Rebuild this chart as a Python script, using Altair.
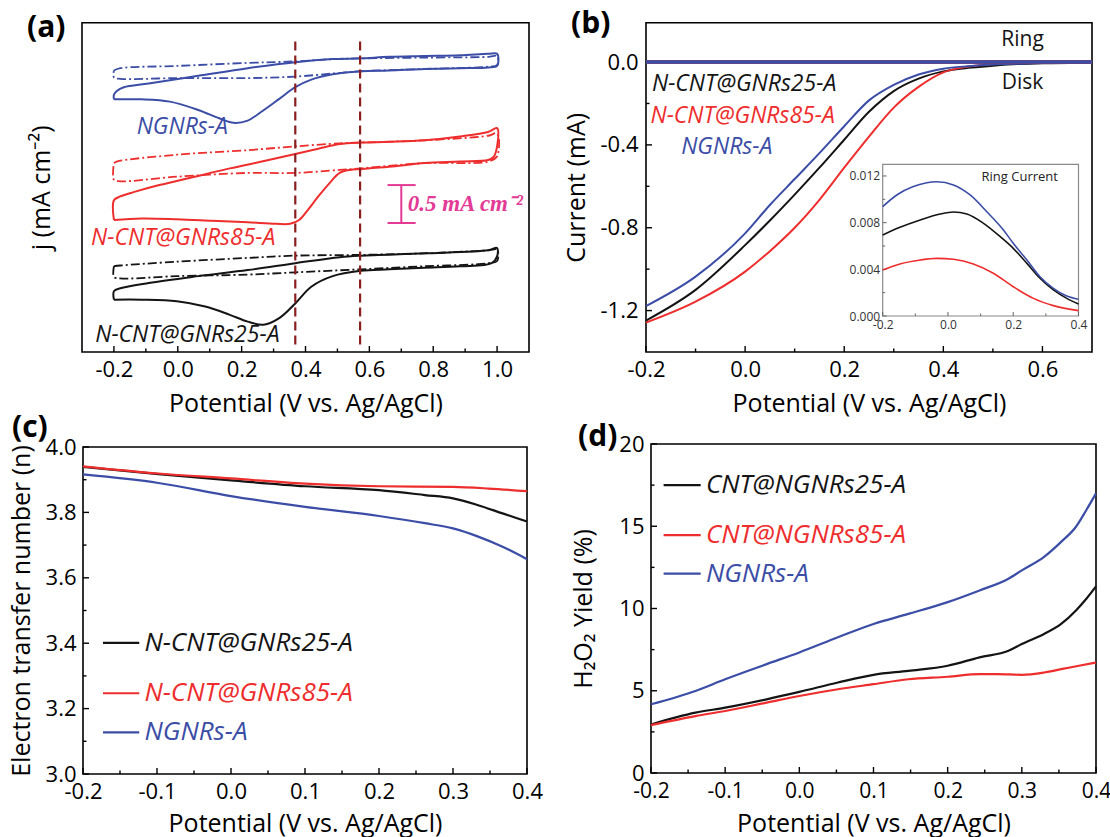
import altair as alt
import pandas as pd

W, H = 1110, 837
FONT = "Open Sans"
BLACK, RED, BLUE = "#141414", "#EE2D2D", "#3B4DA6"
DARKRED = "#8B1E1E"
PINK = "#E33A96"
CSCALE = alt.Scale(domain=["black", "red", "blue"], range=[BLACK, RED, BLUE])
MINUS = "replace(format(datum.value, '.1f'), '\u2212', '-')"

# ---------------- (a) cyclic voltammograms (offset, mA cm-2) ----------------
A_BLUE_SOLID_X = [-0.2, -0.114, -0.025, 0.064, 0.13, 0.175, 0.219, 0.263, 0.319, 0.368, 0.418, 0.485, 0.573, 0.662, 0.773, 0.884, 0.972, 1.0, 1.0, 0.972, 0.884, 0.773, 0.662, 0.573, 0.485, 0.368, 0.219, 0.064, -0.091, -0.169, -0.191, -0.2, -0.2]
A_BLUE_SOLID_Y = [3.33, 3.33, 3.30, 3.19, 3.08, 3.02, 3.05, 3.17, 3.34, 3.49, 3.59, 3.66, 3.70, 3.71, 3.73, 3.74, 3.75, 3.77, 3.93, 3.93, 3.91, 3.90, 3.89, 3.87, 3.86, 3.82, 3.74, 3.64, 3.54, 3.49, 3.44, 3.39, 3.33]
A_BLUE_DASH_X = [-0.2, -0.18, -0.003, 0.219, 0.368, 0.485, 0.573, 0.773, 0.972, 1.0, 1.0, 0.972, 0.773, 0.573, 0.485, 0.368, 0.219, -0.003, -0.18, -0.2, -0.2]
A_BLUE_DASH_Y = [3.71, 3.74, 3.77, 3.81, 3.83, 3.86, 3.87, 3.88, 3.89, 3.90, 3.78, 3.76, 3.73, 3.70, 3.67, 3.63, 3.61, 3.61, 3.60, 3.62, 3.71]
A_RED_SOLID_X = [-0.2, -0.114, -0.003, 0.108, 0.219, 0.307, 0.352, 0.38, 0.407, 0.44, 0.474, 0.507, 0.54, 0.573, 0.662, 0.773, 0.884, 0.972, 0.989, 1.0, 1.0, 0.972, 0.884, 0.773, 0.662, 0.573, 0.507, 0.44, 0.368, 0.274, 0.163, 0.053, -0.058, -0.136, -0.18, -0.2, -0.2]
A_RED_SOLID_Y = [1.74, 1.76, 1.75, 1.73, 1.71, 1.69, 1.69, 1.74, 1.87, 2.05, 2.22, 2.36, 2.40, 2.41, 2.44, 2.49, 2.51, 2.53, 2.57, 2.71, 2.95, 2.90, 2.84, 2.79, 2.77, 2.76, 2.74, 2.68, 2.61, 2.52, 2.42, 2.31, 2.20, 2.11, 2.05, 2.00, 1.74]
A_RED_DASH_X = [-0.2, -0.191, -0.003, 0.219, 0.368, 0.507, 0.573, 0.773, 0.972, 1.0, 1.0, 0.972, 0.773, 0.573, 0.507, 0.368, 0.219, -0.003, -0.18, -0.2, -0.2]
A_RED_DASH_Y = [2.49, 2.51, 2.60, 2.66, 2.71, 2.75, 2.76, 2.79, 2.85, 2.88, 2.58, 2.51, 2.49, 2.42, 2.40, 2.36, 2.36, 2.31, 2.25, 2.27, 2.49]
A_BLACK_SOLID_X = [-0.2, -0.114, -0.003, 0.086, 0.163, 0.219, 0.269, 0.319, 0.368, 0.418, 0.485, 0.573, 0.662, 0.773, 0.884, 0.983, 1.0, 1.0, 0.972, 0.773, 0.573, 0.507, 0.368, 0.219, 0.064, -0.091, -0.18, -0.2, -0.2]
A_BLACK_SOLID_Y = [0.69, 0.69, 0.67, 0.60, 0.49, 0.40, 0.36, 0.45, 0.64, 0.86, 1.00, 1.07, 1.09, 1.11, 1.13, 1.17, 1.26, 1.37, 1.34, 1.30, 1.27, 1.25, 1.17, 1.08, 1.00, 0.91, 0.84, 0.80, 0.69]
A_BLACK_DASH_X = [-0.2, -0.18, -0.003, 0.219, 0.368, 0.573, 0.773, 0.972, 1.0, 1.0, 0.972, 0.773, 0.573, 0.368, 0.219, -0.003, -0.18, -0.2, -0.2]
A_BLACK_DASH_Y = [1.13, 1.14, 1.19, 1.24, 1.27, 1.28, 1.30, 1.34, 1.35, 1.20, 1.17, 1.13, 1.09, 1.05, 1.02, 1.00, 0.97, 0.99, 1.13]
A_VLINES_X = [0.368, 0.571]
A_VLINES_Y = [0.10, 4.12]
A_BAR_X0 = [0.70, 0.657, 0.657]
A_BAR_X1 = [0.70, 0.745, 0.745]
A_BAR_Y0 = [1.70, 2.20, 1.70]
A_BAR_Y1 = [2.20, 2.20, 1.70]
A_LABELS = ["NGNRs-A", "N-CNT@GNRs85-A", "N-CNT@GNRs25-A"]
A_LABEL_X = [0.014, 0.017, 0.03]
A_LABEL_Y = [2.96, 1.50, 0.23]
A_LABEL_C = ["blue", "red", "black"]

# ---------------- (b) RRDE disk / ring ----------------
B_X = [-0.2, -0.1, 0.0, 0.05, 0.1, 0.15, 0.2, 0.25, 0.3, 0.35, 0.4, 0.45, 0.5, 0.55, 0.6, 0.7]
B_RED = [-1.258, -1.157, -1.012, -0.913, -0.80, -0.665, -0.51, -0.36, -0.22, -0.12, -0.05, -0.022, -0.01, -0.005, -0.003, -0.002]
B_BLACK = [-1.248, -1.10, -0.884, -0.765, -0.64, -0.51, -0.375, -0.24, -0.14, -0.08, -0.045, -0.028, -0.018, -0.01, -0.006, -0.003]
B_BLUE = [-1.178, -1.036, -0.827, -0.69, -0.565, -0.44, -0.31, -0.185, -0.11, -0.06, -0.032, -0.02, -0.012, -0.008, -0.005, -0.003]
B_RING_X = [-0.2, 0.7]
B_RING_Y = [0.0, 0.0]
B_LABELS = ["N-CNT@GNRs25-A", "N-CNT@GNRs85-A", "NGNRs-A"]
B_LABEL_X = [-0.188, -0.191, -0.129]
B_LABEL_Y = [-0.104, -0.262, -0.41]
B_LABEL_C = ["black", "red", "blue"]
B_NOTES = ["Ring", "Disk"]
B_NOTE_X = [0.56, 0.56]
B_NOTE_Y = [0.105, -0.102]

# inset: ring current
I_BLUE_X = [-0.2, -0.157, -0.106, -0.034, 0.017, 0.068, 0.119, 0.17, 0.2, 0.242, 0.282, 0.323, 0.364, 0.4]
I_BLUE_Y = [0.00937, 0.01037, 0.01109, 0.01151, 0.01123, 0.01037, 0.00894, 0.00737, 0.00623, 0.0048, 0.00337, 0.00237, 0.00171, 0.00143]
I_BLACK_X = [-0.2, -0.147, -0.085, -0.024, 0.017, 0.058, 0.109, 0.16, 0.2, 0.242, 0.282, 0.323, 0.364, 0.4]
I_BLACK_Y = [0.00694, 0.0076, 0.00823, 0.00874, 0.00891, 0.00874, 0.00794, 0.0068, 0.0058, 0.00451, 0.00323, 0.00223, 0.00151, 0.00103]
I_RED_X = [-0.2, -0.147, -0.085, -0.034, 0.017, 0.078, 0.139, 0.2, 0.262, 0.323, 0.4]
I_RED_Y = [0.00394, 0.00446, 0.0048, 0.00494, 0.00486, 0.00446, 0.00366, 0.00251, 0.00151, 0.00089, 0.00046]

# ---------------- (c) electron transfer number ----------------
C_RED_X = [-0.2, -0.098, 0.0, 0.1, 0.2, 0.3, 0.348, 0.4]
C_RED_Y = [3.941, 3.919, 3.904, 3.888, 3.880, 3.878, 3.873, 3.865]
C_BLACK_X = [-0.2, -0.098, 0.0, 0.1, 0.2, 0.262, 0.3, 0.334, 0.367, 0.4]
C_BLACK_Y = [3.939, 3.917, 3.898, 3.880, 3.868, 3.853, 3.843, 3.822, 3.797, 3.772]
C_BLUE_X = [-0.2, -0.098, 0.0, 0.1, 0.2, 0.262, 0.3, 0.334, 0.367, 0.4]
C_BLUE_Y = [3.916, 3.890, 3.850, 3.817, 3.789, 3.767, 3.751, 3.726, 3.695, 3.657]
C_LEG = ["N-CNT@GNRs25-A", "N-CNT@GNRs85-A", "NGNRs-A"]
C_LEG_Y = [3.401, 3.247, 3.127]
C_LEG_C = ["black", "red", "blue"]
C_LEG_X = [-0.173, -0.124, -0.117]

# ---------------- (d) H2O2 yield ----------------
D_X = [-0.2, -0.14, -0.1, -0.044, 0.0, 0.052, 0.1, 0.147, 0.2, 0.243, 0.282, 0.3, 0.33, 0.353, 0.373, 0.387, 0.4]
D_BLUE = [4.18, 4.99, 5.70, 6.62, 7.33, 8.25, 9.06, 9.67, 10.39, 11.1, 11.81, 12.32, 13.14, 14.05, 14.97, 15.99, 17.0]
D_BLACK = [2.95, 3.67, 3.97, 4.48, 4.93, 5.50, 5.97, 6.21, 6.52, 7.03, 7.43, 7.84, 8.45, 9.06, 9.88, 10.59, 11.34]
D_RED_X = [-0.2, -0.14, -0.1, -0.044, 0.0, 0.052, 0.1, 0.147, 0.2, 0.243, 0.267, 0.3, 0.33, 0.353, 0.377, 0.4]
D_RED = [2.91, 3.46, 3.77, 4.28, 4.68, 5.09, 5.40, 5.70, 5.85, 6.01, 6.01, 5.97, 6.11, 6.31, 6.52, 6.72]
D_LEG = ["CNT@NGNRs25-A", "CNT@NGNRs85-A", "NGNRs-A"]
D_LEG_Y = [17.5, 14.46, 12.12]
D_LEG_C = ["black", "red", "blue"]
D_LEG_X = [-0.183, -0.133, -0.126]

TICK_FS = 22
TITLE_FS = 25


# ---------------- helpers ----------------
def axis(orient, offset, values=None, title="", labels=True, fmt=None, size=TICK_FS,
         lpad=7, tpad=11, tsize=TITLE_FS, lcolor="black"):
    kw = dict(orient=orient, offset=offset, title=title, labels=labels, ticks=False,
              tickSize=0, domain=False, grid=False, labelFont=FONT, labelFontSize=size,
              labelColor=lcolor, titleFont=FONT, titleFontSize=tsize,
              titleFontWeight="normal", titleColor="black", labelPadding=lpad,
              titlePadding=tpad, labelOverlap=False, labelFlush=False)
    if values is not None:
        kw["values"] = values
    if fmt is not None:
        kw["labelExpr"] = fmt
    return alt.Axis(**kw)


def encoders(xd, xr, yd, yr, xax, yax):
    sx = alt.Scale(domain=xd, range=xr, zero=False, nice=False)
    sy = alt.Scale(domain=yd, range=yr, zero=False, nice=False)

    def X(f):
        return alt.X(f, type="quantitative", scale=sx, axis=xax)

    def Y(f):
        return alt.Y(f, type="quantitative", scale=sy, axis=yax)
    return X, Y


def curves(items):
    rows = []
    for key, c, xs, ys in items:
        for i, (x, y) in enumerate(zip(xs, ys)):
            rows.append({"key": key, "c": c, "x": x, "y": y, "i": i})
    return pd.DataFrame(rows)


def line_layer(df, X, Y, width=2.0, dash=None, interp="linear"):
    kw = dict(strokeWidth=width, interpolate=interp)
    if dash:
        kw["strokeDash"] = dash
    return alt.Chart(df).mark_line(**kw).encode(
        x=X("x"), y=Y("y"), detail="key:N", order="i:Q",
        color=alt.Color("c:N", scale=CSCALE, legend=None))


def frame(X, Y, xd, yd, color="black", sw=1.6):
    df = pd.DataFrame({"x0": [xd[0]], "x1": [xd[1]], "y0": [yd[0]], "y1": [yd[1]]})
    return alt.Chart(df).mark_rect(fillOpacity=0, stroke=color, strokeWidth=sw).encode(
        x=X("x0"), x2="x1", y=Y("y0"), y2="y1")


def xticks(X, vals, bottom, length, color="black", sw=1.4):
    return alt.Chart(pd.DataFrame({"v": vals})).mark_rule(color=color, strokeWidth=sw).encode(
        x=X("v"), y=alt.value(bottom), y2=alt.value(bottom - length))


def yticks(Y, vals, left, length, color="black", sw=1.4):
    return alt.Chart(pd.DataFrame({"v": vals})).mark_rule(color=color, strokeWidth=sw).encode(
        y=Y("v"), x=alt.value(left), x2=alt.value(left + length))


def texts(X, Y, labels, xs, ys, cs, size, align="center", style="italic", weight="normal", font=FONT):
    df = pd.DataFrame({"t": labels, "x": xs, "y": ys, "c": cs})
    return alt.Chart(df).mark_text(font=font, fontSize=size, fontStyle=style, fontWeight=weight,
                                   align=align, baseline="middle").encode(
        x=X("x"), y=Y("y"), text="t:N",
        color=alt.Color("c:N", scale=CSCALE, legend=None))


# ---------------- panel (a) ----------------
AX = [-0.3, 1.1]; AY = [0.0, 4.34]
A_L, A_R, A_T, A_B = 82, 529, 22.7, 352
Xa, Ya = encoders(AX, [A_L, A_R], AY, [A_B, A_T],
                  axis("bottom", A_B - H, [-0.2, 0.0, 0.2, 0.4, 0.6, 0.8, 1.0], "Potential (V vs. Ag/AgCl)", fmt=MINUS),
                  axis("left", -A_L, [], "j (mA cm\u207b\u00b2)", labels=False, tpad=28))
a_solid = curves([("bs", "blue", A_BLUE_SOLID_X, A_BLUE_SOLID_Y),
                  ("rs", "red", A_RED_SOLID_X, A_RED_SOLID_Y),
                  ("ks", "black", A_BLACK_SOLID_X, A_BLACK_SOLID_Y)])
a_dash = curves([("bd", "blue", A_BLUE_DASH_X, A_BLUE_DASH_Y),
                 ("rd", "red", A_RED_DASH_X, A_RED_DASH_Y),
                 ("kd", "black", A_BLACK_DASH_X, A_BLACK_DASH_Y)])
vl = pd.DataFrame({"x": A_VLINES_X, "y0": [A_VLINES_Y[0]] * 2, "y1": [A_VLINES_Y[1]] * 2})
bar = pd.DataFrame({"x0": A_BAR_X0, "x1": A_BAR_X1, "y0": A_BAR_Y0, "y1": A_BAR_Y1})
panel_a = alt.layer(
    frame(Xa, Ya, AX, AY),
    xticks(Xa, [-0.2, 0.0, 0.2, 0.4, 0.6, 0.8, 1.0], A_B, 6),
    xticks(Xa, [-0.1, 0.1, 0.3, 0.5, 0.7, 0.9], A_B, 3.5),
    line_layer(a_dash, Xa, Ya, 1.8, [9, 3, 2, 3], interp="catmull-rom"),
    line_layer(a_solid, Xa, Ya, 2.0, interp="catmull-rom"),
    alt.Chart(vl).mark_rule(color=DARKRED, strokeWidth=2.2, strokeDash=[9, 5]).encode(
        x=Xa("x"), y=Ya("y0"), y2="y1"),
    alt.Chart(bar).mark_rule(color=PINK, strokeWidth=2).encode(
        x=Xa("x0"), x2="x1", y=Ya("y0"), y2="y1"),
    alt.Chart(pd.DataFrame({"t": ["0.5 mA cm\u207b\u00b2"], "x": [0.72], "y": [1.95]})).mark_text(
        font="Liberation Serif", fontSize=23, fontStyle="italic", fontWeight="bold",
        color=PINK, align="left", baseline="middle").encode(x=Xa("x"), y=Ya("y"), text="t:N"),
    texts(Xa, Ya, A_LABELS, A_LABEL_X, A_LABEL_Y, A_LABEL_C, 23),
)

# ---------------- panel (b) ----------------
BX = [-0.2, 0.7]; BY = [-1.4, 0.19]
B_L, B_R, B_T, B_B = 646, 1092, 22.7, 352
Xb, Yb = encoders(BX, [B_L, B_R], BY, [B_B, B_T],
                  axis("bottom", B_B - H, [-0.2, 0.0, 0.2, 0.4, 0.6], "Potential (V vs. Ag/AgCl)", fmt=MINUS),
                  axis("left", -B_L, [0.0, -0.4, -0.8, -1.2], "Current (mA)", fmt=MINUS, lpad=8, tpad=10))
b_disk = curves([("kd", "black", B_X, B_BLACK), ("rd", "red", B_X, B_RED), ("bd", "blue", B_X, B_BLUE)])
b_ring = curves([("kr", "black", B_RING_X, B_RING_Y), ("rr", "red", B_RING_X, B_RING_Y),
                 ("br", "blue", B_RING_X, B_RING_Y)])
panel_b = alt.layer(
    frame(Xb, Yb, BX, BY),
    xticks(Xb, [-0.2, 0.0, 0.2, 0.4, 0.6], B_B, 6),
    xticks(Xb, [-0.1, 0.1, 0.3, 0.5], B_B, 3.5),
    yticks(Yb, [0.0, -0.4, -0.8, -1.2], B_L, 6),
    yticks(Yb, [-0.2, -0.6, -1.0], B_L, 3.5),
    line_layer(b_disk, Xb, Yb, 2.0, interp="monotone"),
    line_layer(b_ring, Xb, Yb, 3.5),
    texts(Xb, Yb, B_LABELS, B_LABEL_X, B_LABEL_Y, B_LABEL_C, 23, align="left"),
    texts(Xb, Yb, B_NOTES, B_NOTE_X, B_NOTE_Y, ["black", "black"], 21, style="normal"),
)

# ---------------- inset ----------------
IX = [-0.2, 0.4]; IY = [0.0, 0.013]
I_L, I_R, I_B, I_T = 882.7, 1078.5, 316, 164.3
Xi, Yi = encoders(IX, [I_L, I_R], IY, [I_B, I_T],
                  axis("bottom", I_B - H, [-0.2, 0.0, 0.2, 0.4], "", fmt=MINUS, size=12, lpad=3, lcolor="#333333"),
                  axis("left", -I_L, [0.0, 0.004, 0.008, 0.012], "", fmt="format(datum.value, '.3f')",
                       size=12, lpad=3, lcolor="#333333"))
i_df = curves([("ki", "black", I_BLACK_X, I_BLACK_Y), ("ri", "red", I_RED_X, I_RED_Y),
               ("bi", "blue", I_BLUE_X, I_BLUE_Y)])
panel_i = alt.layer(
    frame(Xi, Yi, IX, IY, color="#8a8a8a", sw=1.2),
    xticks(Xi, [-0.2, 0.0, 0.2, 0.4], I_B, 4, color="#666666", sw=1),
    xticks(Xi, [-0.1, 0.1, 0.3], I_B, 2.5, color="#666666", sw=1),
    yticks(Yi, [0.0, 0.004, 0.008, 0.012], I_L, 4, color="#666666", sw=1),
    yticks(Yi, [0.002, 0.006, 0.010], I_L, 2.5, color="#666666", sw=1),
    line_layer(i_df, Xi, Yi, 1.6, interp="monotone"),
    alt.Chart(pd.DataFrame({"t": ["Ring Current"], "x": [0.22], "y": [0.01194]})).mark_text(
        font=FONT, fontSize=13, color="#222222", align="center", baseline="middle").encode(
        x=Xi("x"), y=Yi("y"), text="t:N"),
)

# ---------------- panel (c) ----------------
CX = [-0.2, 0.4]; CY = [3.0, 4.0]
C_L, C_R, C_T, C_B = 83, 527, 447, 774
Xc, Yc = encoders(CX, [C_L, C_R], CY, [C_B, C_T],
                  axis("bottom", C_B - H, [-0.2, -0.1, 0.0, 0.1, 0.2, 0.3, 0.4], "Potential (V vs. Ag/AgCl)",
                       fmt=MINUS, tpad=9),
                  axis("left", -C_L, [3.0, 3.2, 3.4, 3.6, 3.8, 4.0], "Electron transfer number (n)",
                       fmt=MINUS, lpad=7, tpad=11))
c_df = curves([("kc", "black", C_BLACK_X, C_BLACK_Y), ("bc", "blue", C_BLUE_X, C_BLUE_Y),
               ("rc", "red", C_RED_X, C_RED_Y)])
c_leg = pd.DataFrame({"x0": [C_LEG_X[0]] * 3, "x1": [C_LEG_X[1]] * 3, "y": C_LEG_Y, "c": C_LEG_C})
panel_c = alt.layer(
    frame(Xc, Yc, CX, CY),
    xticks(Xc, [-0.2, -0.1, 0.0, 0.1, 0.2, 0.3, 0.4], C_B, 6),
    xticks(Xc, [-0.15, -0.05, 0.05, 0.15, 0.25, 0.35], C_B, 3.5),
    yticks(Yc, [3.0, 3.2, 3.4, 3.6, 3.8, 4.0], C_L, 6),
    yticks(Yc, [3.1, 3.3, 3.5, 3.7, 3.9], C_L, 3.5),
    line_layer(c_df, Xc, Yc, 2.2, interp="monotone"),
    alt.Chart(c_leg).mark_rule(strokeWidth=2.2).encode(
        x=Xc("x0"), x2="x1", y=Yc("y"), color=alt.Color("c:N", scale=CSCALE, legend=None)),
    texts(Xc, Yc, C_LEG, [C_LEG_X[2]] * 3, C_LEG_Y, C_LEG_C, 26, align="left"),
)

# ---------------- panel (d) ----------------
DX = [-0.2, 0.4]; DY = [0.0, 20.0]
D_L, D_R, D_T, D_B = 651, 1096, 444, 773
Xd, Yd = encoders(DX, [D_L, D_R], DY, [D_B, D_T],
                  axis("bottom", D_B - H, [-0.2, -0.1, 0.0, 0.1, 0.2, 0.3, 0.4], "Potential (V vs. Ag/AgCl)",
                       fmt=MINUS, tpad=10, size=21),
                  axis("left", -D_L, [0, 5, 10, 15, 20], "H\u2082O\u2082 Yield (%)",
                       fmt="format(datum.value, 'd')", lpad=7, tpad=22))
d_df = curves([("kd", "black", D_X, D_BLACK), ("rd", "red", D_RED_X, D_RED), ("bd", "blue", D_X, D_BLUE)])
d_leg = pd.DataFrame({"x0": [D_LEG_X[0]] * 3, "x1": [D_LEG_X[1]] * 3, "y": D_LEG_Y, "c": D_LEG_C})
panel_d = alt.layer(
    frame(Xd, Yd, DX, DY),
    xticks(Xd, [-0.2, -0.1, 0.0, 0.1, 0.2, 0.3, 0.4], D_B, 6),
    xticks(Xd, [-0.15, -0.05, 0.05, 0.15, 0.25, 0.35], D_B, 3.5),
    yticks(Yd, [0, 5, 10, 15, 20], D_L, 6),
    yticks(Yd, [2.5, 7.5, 12.5, 17.5], D_L, 3.5),
    line_layer(d_df, Xd, Yd, 2.2, interp="monotone"),
    alt.Chart(d_leg).mark_rule(strokeWidth=2.2).encode(
        x=Xd("x0"), x2="x1", y=Yd("y"), color=alt.Color("c:N", scale=CSCALE, legend=None)),
    texts(Xd, Yd, D_LEG, [D_LEG_X[2]] * 3, D_LEG_Y, D_LEG_C, 26, align="left"),
)


# ---------------- panel letters ----------------
def letter(t, x, y):
    return alt.Chart(pd.DataFrame({"t": [t]})).mark_text(
        font=FONT, fontSize=30, fontWeight="bold", color="black", align="left",
        baseline="middle").encode(text="t:N", x=alt.value(x), y=alt.value(y))


letters = alt.layer(letter("(a)", 27, 28), letter("(b)", 571, 24),
                    letter("(c)", 12, 428), letter("(d)", 578, 437))

chart = alt.layer(panel_a, panel_b, panel_i, panel_c, panel_d, letters).resolve_scale(
    x="independent", y="independent"
).properties(
    width=W, height=H, autosize=alt.AutoSizeParams(type="none"), padding=0, background="white"
).configure_view(stroke="transparent")

chart.save("out.html", embed_options={"renderer": "svg", "actions": False})
